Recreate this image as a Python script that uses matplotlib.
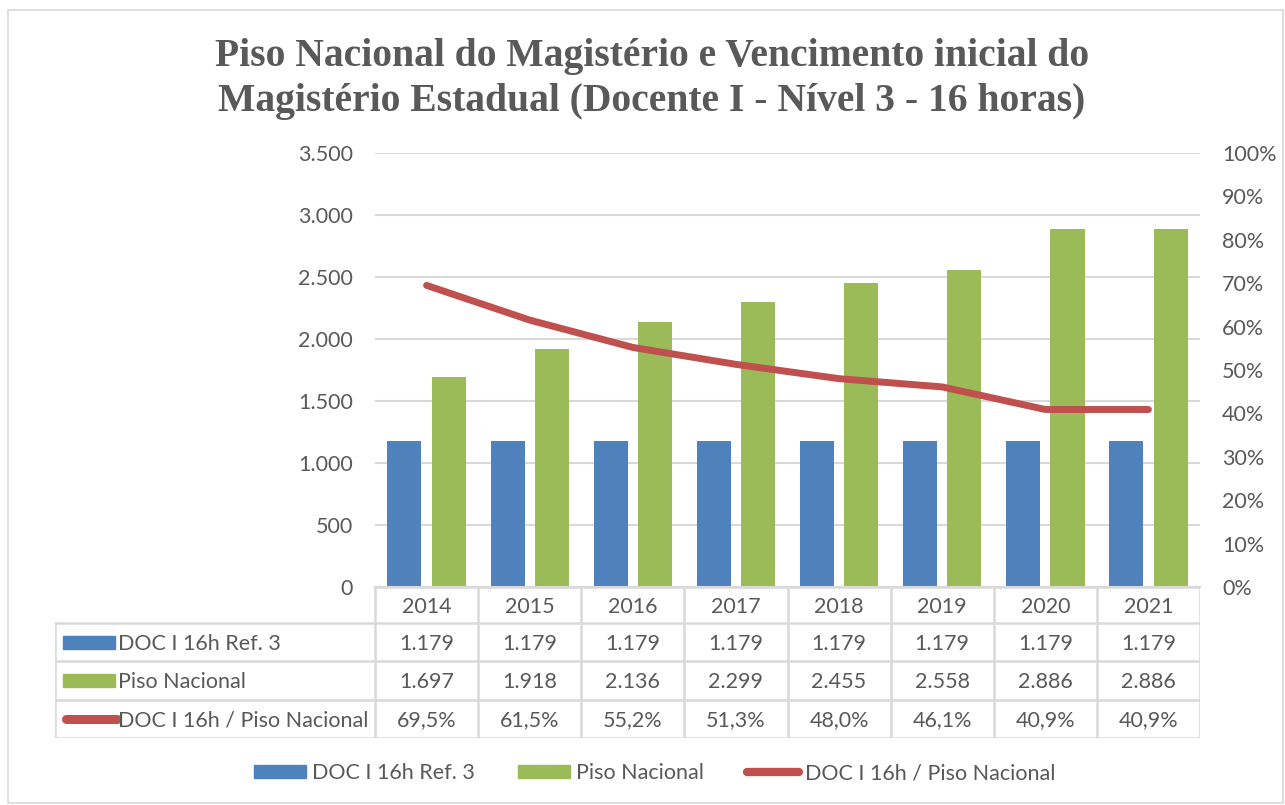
import matplotlib as mpl
import matplotlib.pyplot as plt
import numpy as np
from matplotlib.lines import Line2D
from matplotlib.patches import Patch, Rectangle

mpl.rcParams.update({
    "font.family": "Lato",
    "font.size": 15.5,
    "text.color": "#595959",
})

# data
years = ["2014", "2015", "2016", "2017", "2018", "2019", "2020", "2021"]
doc_ref3 = [1179, 1179, 1179, 1179, 1179, 1179, 1179, 1179]
piso = [1697, 1918, 2136, 2299, 2455, 2558, 2886, 2886]
ratio = [69.5, 61.5, 55.2, 51.3, 48.0, 46.1, 40.9, 40.9]
series_names = ["DOC I 16h Ref. 3", "Piso Nacional", "DOC I 16h / Piso Nacional"]

BLUE = "#4F81BD"
GREEN = "#9BBB59"
RED = "#C0504D"
GRID = "#D9D9D9"
TXT = "#595959"

W, H = 1285, 805
fig = plt.figure(figsize=(W / 100, H / 100), dpi=100)

def fx(px):
    return px / W

def fy(py):
    return 1 - py / H

# outer chart border
fig.patches.append(Rectangle((fx(8), fy(803)), fx(1275), fy(10) - fy(803),
                             transform=fig.transFigure, fill=False,
                             edgecolor=GRID, linewidth=1.2))

# main axes
ax_l, ax_r, ax_t, ax_b = 375, 1200, 153, 587
ax = fig.add_axes([fx(ax_l), fy(ax_b), fx(ax_r - ax_l), fy(ax_t) - fy(ax_b)])
x = np.arange(len(years))
bw = 0.33
ax.bar(x - 0.215, doc_ref3, bw, color=BLUE, zorder=2)
ax.bar(x + 0.215, piso, bw, color=GREEN, zorder=2)
ax.set_xlim(-0.5, len(years) - 0.5)
ax.set_ylim(0, 3500)
ax.set_yticks(np.arange(0, 3501, 500))
ax.set_yticklabels([f"{v:,}".replace(",", ".") for v in range(0, 3501, 500)])
ax.set_xticks([])
ax.grid(axis="y", color=GRID, linewidth=1.5, zorder=0)
for s in ["top", "right", "left"]:
    ax.spines[s].set_visible(False)
ax.spines["bottom"].set_color(GRID)
ax.spines["bottom"].set_linewidth(1.5)
ax.tick_params(axis="y", length=0, pad=16, labelcolor=TXT, labelsize=15.5)

ax2 = ax.twinx()
ax2.plot(x, ratio, color=RED, linewidth=5, solid_capstyle="round", zorder=3)
ax2.set_ylim(0, 100)
ax2.set_yticks(np.arange(0, 101, 10))
ax2.set_yticklabels([f"{v}%" for v in range(0, 101, 10)])
for s in ax2.spines.values():
    s.set_visible(False)
ax2.tick_params(axis="y", length=0, pad=16, labelcolor=TXT, labelsize=15.5)

# data table below the axes
tab_left, tab_top, tab_bot = 55, 587, 738
row_edges = [587, 623, 661, 700, 738]
cw = (ax_r - ax_l) / len(years)
left_units = (ax_l - tab_left) / cw
tax = fig.add_axes([fx(tab_left), fy(tab_bot), fx(ax_r - tab_left), fy(tab_top) - fy(tab_bot)])
tax.set_xlim(-0.5 - left_units, len(years) - 0.5)
tax.set_ylim(tab_bot, tab_top)
tax.axis("off")
lw = 1.8
# horizontal lines
tax.plot([-0.5, len(years) - 0.5], [row_edges[0]] * 2, color=GRID, lw=lw)
for r in row_edges[1:]:
    tax.plot([-0.5 - left_units, len(years) - 0.5], [r, r], color=GRID, lw=lw)
# vertical lines
tax.plot([-0.5 - left_units] * 2, [row_edges[1], row_edges[-1]], color=GRID, lw=lw)
for i in range(len(years) + 1):
    tax.plot([i - 0.5] * 2, [row_edges[0], row_edges[-1]], color=GRID, lw=lw)

for i, yr in enumerate(years):
    tax.text(i, (row_edges[0] + row_edges[1]) / 2 + 1.5, yr, ha="center", va="center", color=TXT)

rows = [
    [f"{v:,}".replace(",", ".") for v in doc_ref3],
    [f"{v:,}".replace(",", ".") for v in piso],
    [f"{v:.1f}%".replace(".", ",") for v in ratio],
]
for r, vals in enumerate(rows):
    yc = (row_edges[r + 1] + row_edges[r + 2]) / 2 + 1.5
    for i, v in enumerate(vals):
        tax.text(i, yc, v, ha="center", va="center", color=TXT)
    tax.text(-0.5 - left_units + 63 / cw, yc, series_names[r], ha="left", va="center", color=TXT)

# legend keys in table
k0 = -0.5 - left_units + 8 / cw
kw = 52 / cw
for r, col in enumerate([BLUE, GREEN]):
    yc = (row_edges[r + 1] + row_edges[r + 2]) / 2
    tax.add_patch(Rectangle((k0, yc - 6.5), kw, 13, color=col))
yc = (row_edges[3] + row_edges[4]) / 2
tax.plot([k0 + 3 / cw, k0 + kw + 2 / cw], [yc, yc], color=RED, lw=6.5, solid_capstyle="round")

# title
fig.text(fx(652), fy(79), "Piso Nacional do Magistério e Vencimento inicial do\nMagistério Estadual (Docente I - Nível 3 - 16 horas)",
         ha="center", va="center", fontsize=28.5, fontweight="bold", family="Liberation Serif",
         color=TXT, linespacing=1.27)

# bottom legend
handles = [Patch(color=BLUE), Patch(color=GREEN),
           Line2D([0], [0], color=RED, lw=6, solid_capstyle="round")]
fig.legend(handles, series_names, loc="center", bbox_to_anchor=(fx(655), fy(773)),
           ncol=3, frameon=False, handlelength=2.4, handleheight=0.6,
           handletextpad=0.3, columnspacing=2.0, labelcolor=TXT)

fig.savefig("out.png", dpi=100)
